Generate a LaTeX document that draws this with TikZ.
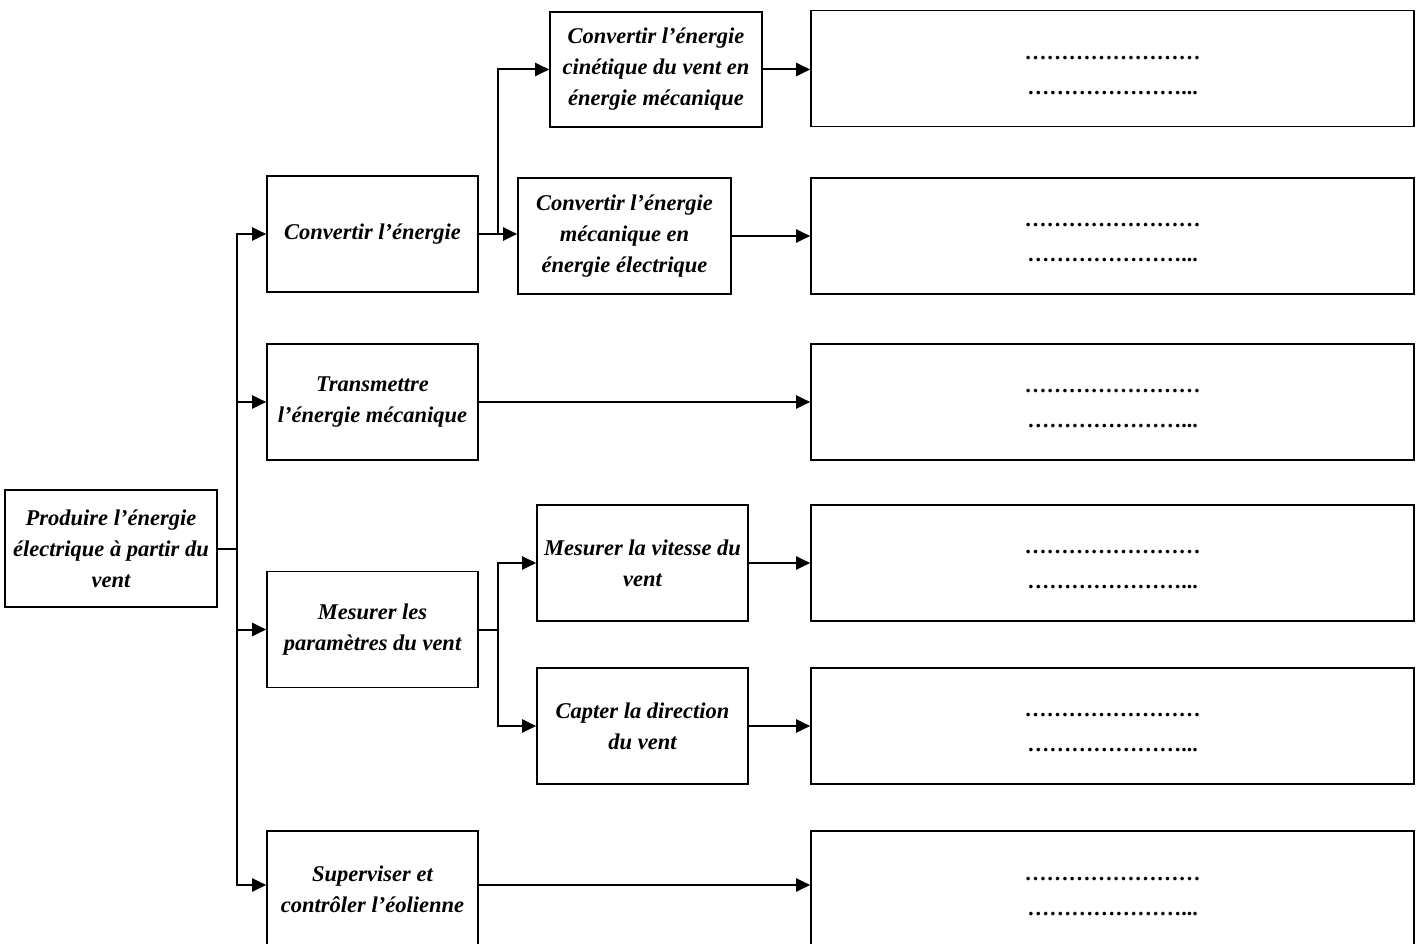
\documentclass[tikz,border=0pt]{standalone}
\usepackage{fontspec}
\setmainfont{Liberation Serif}
\usetikzlibrary{arrows.meta}
\begin{document}
\begin{tikzpicture}[x=1pt,y=-1pt,
  box/.style={draw, line width=1.6pt, minimum width=211pt, minimum height=116pt,
    align=center, inner sep=0pt, font=\fontsize{22.5}{31}\selectfont\bfseries\itshape},
  res/.style={draw, line width=1.6pt, minimum width=603pt, minimum height=116pt,
    align=center, inner sep=0pt, font=\fontsize{22}{35}\selectfont\bfseries},
  arr/.style={line width=2pt, -{Triangle[length=14pt,width=13pt]}},
  ln/.style={line width=2pt}]
\def\myel{…}
\newcommand{\dotsres}{\rule{0pt}{17pt}\myel\myel\myel\myel\myel\myel\myel\myel\\\myel\myel\myel\myel\myel\myel\myel...}
\useasboundingbox (0,0) rectangle (1421,944);
% root
\node[box, minimum width=212pt, minimum height=117pt] (root) at (111,548.5) {Produire l’énergie\\électrique à partir du\\vent};
% level 1
\node[box] (conv) at (372.5,234) {Convertir l’énergie};
\node[box] (trans) at (372.5,402) {Transmettre\\l’énergie mécanique};
\node[box] (mes) at (372.5,629.5) {Mesurer les\\paramètres du vent};
\node[box, minimum height=117pt] (sup) at (372.5,889.5) {Superviser et\\contrôler l’éolienne};
% level 2
\node[box, minimum width=212pt, minimum height=115pt] (cin) at (656,69.5) {Convertir l’énergie\\cinétique du vent en\\énergie mécanique};
\node[box, minimum width=213pt] (meca) at (624.5,236) {Convertir l’énergie\\mécanique en\\énergie électrique};
\node[box] (vit) at (642.5,563) {Mesurer la vitesse du\\vent};
\node[box] (dir) at (642.5,726) {Capter la direction\\du vent};
% results
\node[res] (r1) at (1112.5,68.5) {\dotsres};
\node[res] (r2) at (1112.5,236) {\dotsres};
\node[res] (r3) at (1112.5,402) {\dotsres};
\node[res] (r4) at (1112.5,563) {\dotsres};
\node[res] (r5) at (1112.5,726) {\dotsres};
\node[res, minimum height=117pt] (r6) at (1112.5,889.5) {\dotsres};
% trunk
\coordinate (j) at (237,548.5);
\draw[ln] (root.east) -- (j);
\draw[arr] (j) |- (conv.west);
\draw[arr] (j) |- (trans.west);
\draw[arr] (j) |- (mes.west);
\draw[arr] (j) |- ([yshift=4.5pt]sup.west);
% convert branch
\coordinate (jc) at (498,235);
\draw[ln] (conv.east) -- (conv.east -| jc);
\draw[arr] (conv.east -| jc) |- (cin.west);
\draw[arr] (conv.east -| jc) -- (conv.east -| meca.west);
% measure branch
\coordinate (jm) at (498,629.5);
\draw[ln] (mes.east) -- (jm);
\draw[arr] (jm) |- (vit.west);
\draw[arr] (jm) |- (dir.west);
% to results
\draw[arr] (cin.east) -- (cin.east -| r1.west);
\draw[arr] (meca.east) -- (meca.east -| r2.west);
\draw[arr] (trans.east) -- (r3.west);
\draw[arr] (vit.east) -- (r4.west);
\draw[arr] (dir.east) -- (r5.west);
\draw[arr] ([yshift=4.5pt]sup.east) -- ([yshift=4.5pt]sup.east -| r6.west);
\end{tikzpicture}
\end{document}
